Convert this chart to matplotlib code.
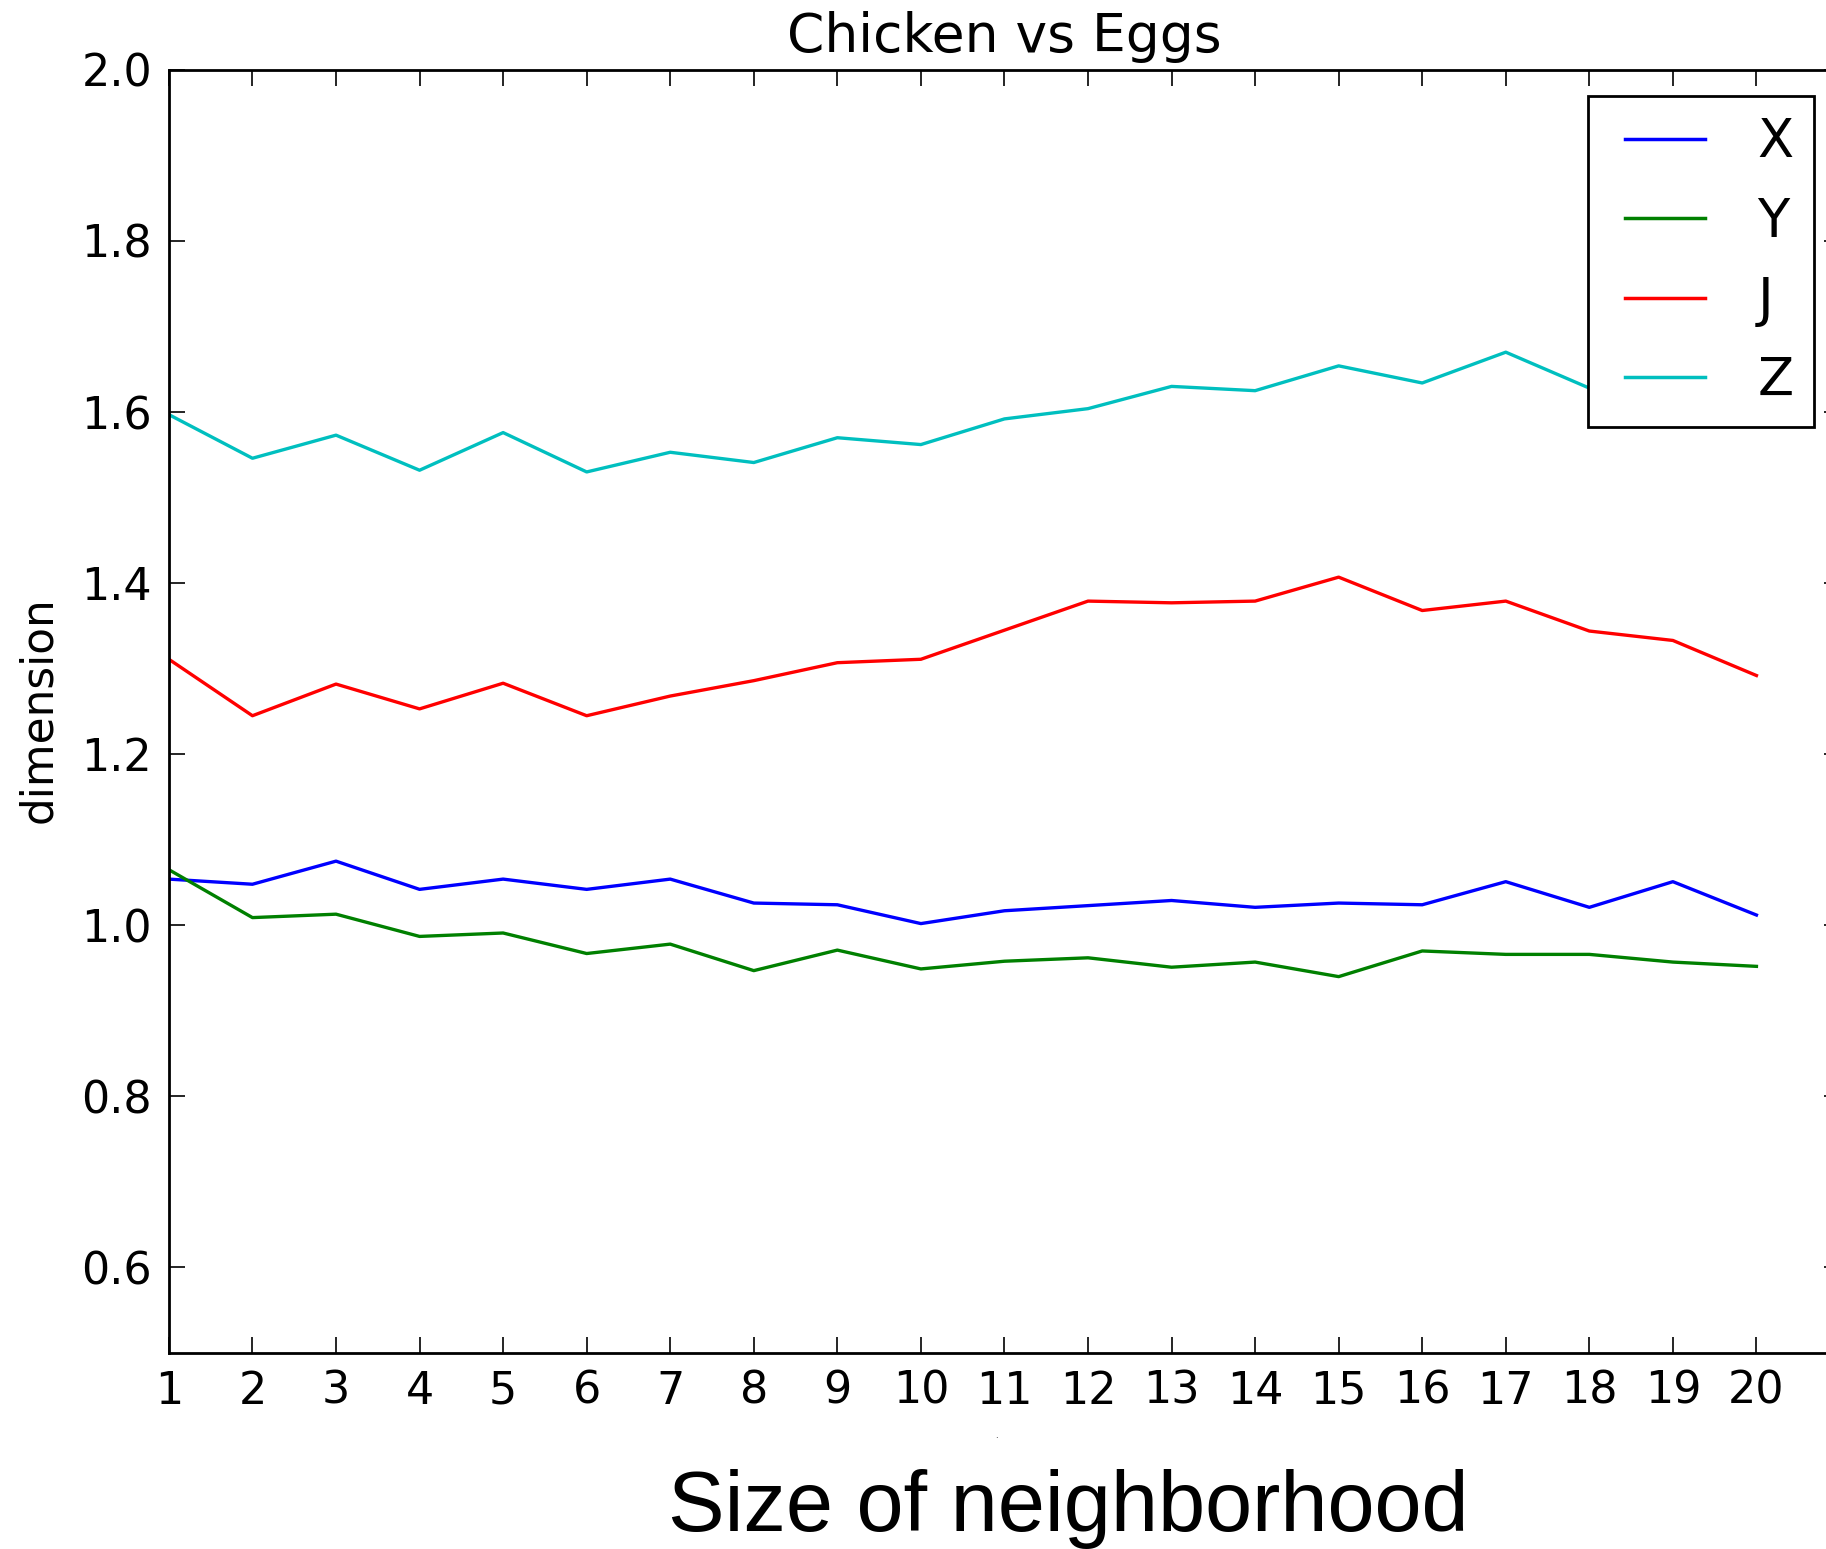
import matplotlib
matplotlib.use("Agg")
import matplotlib.pyplot as plt
from matplotlib.ticker import FixedLocator
from matplotlib.lines import Line2D
from matplotlib.legend_handler import HandlerLine2D

# ---- data ----
sizes = list(range(1, 21))
x_vals = [1.054, 1.048, 1.075, 1.042, 1.054, 1.042, 1.054, 1.026, 1.024, 1.002,
          1.017, 1.023, 1.029, 1.021, 1.026, 1.024, 1.051, 1.021, 1.051, 1.012]
y_vals = [1.065, 1.009, 1.013, 0.987, 0.991, 0.967, 0.978, 0.947, 0.971, 0.949,
          0.958, 0.962, 0.951, 0.957, 0.940, 0.970, 0.966, 0.966, 0.957, 0.952]
j_vals = [1.311, 1.245, 1.282, 1.253, 1.283, 1.245, 1.268, 1.286, 1.307, 1.311,
          1.345, 1.379, 1.377, 1.379, 1.407, 1.368, 1.379, 1.344, 1.333, 1.292]
z_vals = [1.597, 1.546, 1.573, 1.532, 1.576, 1.530, 1.553, 1.541, 1.570, 1.562,
          1.592, 1.604, 1.630, 1.625, 1.654, 1.634, 1.670, 1.628, 1.640, 1.630]
series_labels = ["X", "Y", "J", "Z"]
series_colors = ["#0000ff", "#008000", "#ff0000", "#00bfbf"]
y_ticks = [0.6, 0.8, 1.0, 1.2, 1.4, 1.6, 1.8, 2.0]

W, H = 1826, 1549
fig = plt.figure(figsize=(W / 100, H / 100), dpi=100, facecolor="white")

left, right, top, bottom = 168.9, 1840.0, 69.9, 1353.0
ax = fig.add_axes([left / W, 1 - bottom / H, (right - left) / W, (bottom - top) / H])

for vals, lab, col in zip([x_vals, y_vals, j_vals, z_vals], series_labels, series_colors):
    ax.plot(sizes, vals, color=col, lw=2.4, label=lab)

ax.set_xlim(1, 21)
ax.set_ylim(0.5, 2.0)
ax.xaxis.set_major_locator(FixedLocator(sizes))
ax.yaxis.set_major_locator(FixedLocator(y_ticks))
ax.set_xticklabels([str(s) for s in sizes])
ax.set_yticklabels([f"{v:.1f}" for v in y_ticks])

ax.tick_params(direction="in", length=11.5, width=1.2, top=True, right=True,
               labelsize=32, pad=12, colors="black")
for sp in ax.spines.values():
    sp.set_linewidth(2.0)
    sp.set_color("black")

ax.set_title("Chicken vs Eggs", fontsize=38.5, pad=13)

fig.text(38.5 / W, 1 - 710 / H, "dimension", rotation=90, ha="center", va="center",
         fontsize=31.5)

fig.text(1068 / W, 1 - 1531 / H, "Size of neighborhood", ha="center", va="baseline",
         fontsize=61, family="Liberation Sans")
fig.text(996 / W, 1 - 1435 / H, ".", ha="center", va="center", fontsize=6)

leg = ax.legend(loc="upper right", fontsize=38, frameon=True, fancybox=False,
                borderaxespad=0.5, handlelength=1.83, handletextpad=1.0,
                labelspacing=0.52, borderpad=0.38, framealpha=1.0,
                handler_map={Line2D: HandlerLine2D(xpad=0.33)})
leg.get_frame().set_edgecolor("black")
leg.get_frame().set_linewidth(2.0)
for h in leg.get_lines():
    h.set_linewidth(2.5)

fig.savefig("out.png", dpi=100, facecolor="white")
